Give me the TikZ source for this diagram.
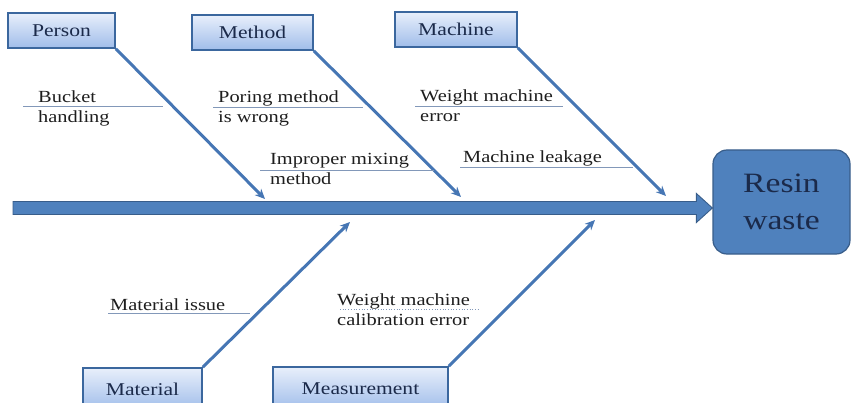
\documentclass[tikz,border=0pt]{standalone}
\usepackage{fontspec}
\setmainfont{Liberation Serif}[FakeStretch=1.2]
\usepackage{tikz}
\usetikzlibrary{arrows.meta, positioning, calc}
\definecolor{boxline}{RGB}{59,103,158}
\definecolor{boxtop}{RGB}{232,239,251}
\definecolor{boxbot}{RGB}{160,189,234}
\definecolor{spinefill}{RGB}{79,129,189}
\definecolor{spinedark}{RGB}{56,93,138}
\definecolor{bonecol}{RGB}{70,118,180}
\definecolor{tickcol}{RGB}{130,152,185}
\definecolor{labtext}{RGB}{30,30,30}
\definecolor{navy}{RGB}{27,42,74}
\tikzset{
  catbox/.style={rectangle, draw=boxline, top color=boxtop, bottom color=boxbot,
    line width=1.6pt, minimum height=35pt, inner sep=0pt,
    font=\fontsize{18}{20}\selectfont, text=navy},
  effect/.style={rectangle, draw=spinedark, fill=spinefill, rounded corners=14pt,
    line width=1.2pt, minimum width=137pt, minimum height=104pt, align=center,
    font=\fontsize{28}{37}\selectfont, text=navy},
  spine/.style={fill=spinefill, draw=spinedark, line width=0.9pt, line join=miter},
  bone/.style={-{Stealth[length=10pt,width=9pt]}, line width=3pt, color=bonecol},
  cause/.style={anchor=base west, align=left, inner sep=0pt,
    font=\fontsize{17}{20}\selectfont, text=labtext},
  tick/.style={line width=0.7pt, color=tickcol}
}
\begin{document}
\begin{tikzpicture}[x=1pt, y=-1pt]
  \useasboundingbox (0,0) rectangle (853,403);
  % Effect and categories
  \node[effect] (resin) at (781.5,202) {Resin\\waste};
  \node[catbox, minimum width=107pt] (person) at (61.5,30.5) {Person};
  \node[catbox, minimum width=121pt] (method) at (252.5,32.5) {Method};
  \node[catbox, minimum width=122pt] (machine) at (456,29.5) {Machine};
  \node[catbox, minimum width=119pt, minimum height=42pt] (material) at (142.5,389) {Material};
  \node[catbox, minimum width=175pt, minimum height=43pt] (measure) at (360.5,388.5) {Measurement};
  % Spine
  \coordinate (tail) at (13,208);
  \coordinate (head) at (resin.west |- tail);
  \draw[spine] ($(tail)+(0,-6.5)$) -- ($(head)+(-16,-6.5)$) -- ($(head)+(-16,-14.5)$)
    -- (head) -- ($(head)+(-16,14.5)$) -- ($(head)+(-16,6.5)$) -- ($(tail)+(0,6.5)$) -- cycle;
  % Bones
  \coordinate (p1) at (265,199);
  \coordinate (p2) at (461,197);
  \coordinate (p3) at (666,196);
  \coordinate (q1) at (350,222);
  \coordinate (q2) at (595,220);
  \draw[bone] (person.south east) -- (p1);
  \draw[bone] (method.south east) -- (p2);
  \draw[bone] (machine.south east) -- (p3);
  \draw[bone] (material.north east) -- (q1);
  \draw[bone] (measure.north east) -- (q2);
  % Causes (base = last line)
  \node[cause] (bucket) at (38,123) {Bucket\\handling};
  \draw[tick] (23,106) -- (163,106);
  \node[cause] (poring) at (218,123) {Poring method\\is wrong};
  \draw[tick] (213,107) -- (363,107);
  \node[cause] (weight) at (420,122) {Weight machine\\error};
  \draw[tick] (415,106) -- (563,106);
  \node[cause] (mixing) at (270,185) {Improper mixing\\method};
  \draw[tick] (260,170) -- (434,170);
  \node[cause] (leak) at (463,163) {Machine leakage};
  \draw[tick] (460,167) -- (633,167);
  \node[cause] (issue) at (110,310) {Material issue};
  \draw[tick] (108,313) -- (250,313);
  \node[cause] (calib) at (337,325) {Weight machine\\calibration error};
  \draw[tick, dotted] (340,309) -- (480,309);
\end{tikzpicture}
\end{document}
